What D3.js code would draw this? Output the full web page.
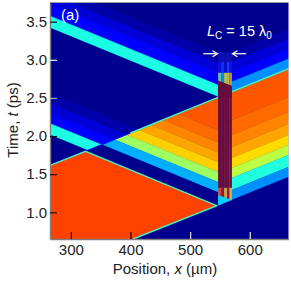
<!DOCTYPE html>
<html>
<head>
<meta charset="utf-8">
<script src="https://cdn.jsdelivr.net/npm/d3@7"></script>
<style>
  html, body { margin: 0; padding: 0; background: #fff; }
  svg { display: block; font-family: "Liberation Sans", Arial, sans-serif; }
</style>
</head>
<body>
<svg id="svg" width="291" height="287"></svg>
<script>
var xDomain = [265, 665];
var tDomain = [0.65, 3.745];
var xTicks = [300, 400, 500, 600];
var tTicks = [1.0, 1.5, 2.0, 2.5, 3.0, 3.5];
var xTickColors = ['#000', '#000', '#ddd', '#eee'];
var tTickColors = ['#111', '#111', '#111', '#aaa', '#eee', '#111'];

// field levels of the falling pulse, read at x = 265 and x = 547
var fallX = [265, 547];
var upperFallStart = [3.99, 3.86, 3.732, 3.575, 3.424];
var upperFallEnd = [3.085, 2.955, 2.827, 2.67, 2.519];
var upperFallLevels = [0.03, 0.08, 0.125, 0.40];

var lowerFallStart = [2.56, 2.43, 2.30, 2.165, 2.02];
var lowerFallEnd = [1.655, 1.525, 1.395, 1.26, 1.115];
var lowerFallLevels = [0.03, 0.08, 0.125, 0.40];

var wedgeFallStart = [3.6, 2.98, 2.82, 2.69, 2.56, 2.43, 2.30, 2.165, 2.02];
var wedgeFallEnd = [2.695, 2.075, 1.915, 1.785, 1.655, 1.525, 1.395, 1.26, 1.115];
var wedgeFallLevels = [0.79, 0.771, 0.745, 0.713, 0.671, 0.53, 0.297, 0];

// rising pulse right of the cavity, read at x = 547 and x = 665
var riseX = [547, 665];
var riseStart = [3.026, 2.901, 2.770, 2.639, 2.508, 2.138, 1.942, 1.784, 1.640, 1.509, 1.378, 1.220, 1.094];
var riseEnd = [3.40, 3.275, 3.144, 3.013, 2.882, 2.512, 2.316, 2.158, 2.014, 1.883, 1.752, 1.594, 1.468];
var riseLevels = [0.03, 0.08, 0.125, 0.265, 0.79, 0.771, 0.745, 0.713, 0.66, 0.56, 0.406, 0.265];

// outlines in (x, t)
var aboveRiseLeft = [[265, 1.615], [547, 2.508], [547, 3.745], [265, 3.745]];
var wedgeOutline = [[324.5, 1.80], [547, 2.508], [547, 1.089]];
var pulseOutline = [[265, 1.615], [324.5, 1.80], [544.6, 1.087], [404.2, 0.65], [265, 0.65]];
var pulseLevel = 0.81;
var brightEdges = [
  [[400, 2.04], [547, 2.508]],
  [[570, 2.582], [665, 2.882]],
  [[265, 1.615], [324.5, 1.80], [544.6, 1.087], [404.2, 0.65]]
];
var dimEdge = [[324.5, 1.80], [400, 2.04]];

// cavity cells
var cavityX = [547, 552, 557, 562, 566, 570];
var cavityT = [3.10, 2.97, 2.83, 2.64, 1.32, 1.16];
var cavityValues = [
  [0.03, 0.05, 0.02, 0.05, 0.03],
  [0.10, 0.18, 0.06, 0.20, 0.12],
  [0.50, 0.30, 0.62, 0.60, 0.68],
  [1.00, 1.00, 0.99, 1.00, 0.99],
  [0.78, 0.92, 0.66, 0.90, 0.62]
];
var cavityHead = [[547, 2.73], [570, 2.66], [570, 2.5], [547, 2.5]];
var cavityFoot = [[547, 1.227], [570, 1.161], [547, 1.089]];

var margin = { left: 50, top: 3, right: 288.5, bottom: 239 };
var x = d3.scaleLinear().domain(xDomain).range([margin.left, margin.right]);
var t = d3.scaleLinear().domain(tDomain).range([margin.bottom, margin.top]);
var jet = d3.scaleLinear()
  .domain([0, 0.125, 0.375, 0.625, 0.875, 1])
  .range(['#00008f', '#0000ff', '#00ffff', '#ffff00', '#ff0000', '#800000']);

var svg = d3.select('#svg');
var defs = svg.append('defs');

function pts(list) {
  return list.map(function (p) { return x(p[0]) + ',' + t(p[1]); }).join(' ');
}
var linePath = d3.line().x(function (p) { return x(p[0]); }).y(function (p) { return t(p[1]); });

function addClip(id, outline) {
  defs.append('clipPath').attr('id', id).append('polygon').attr('points', pts(outline));
}
addClip('plotClip', [[xDomain[0], tDomain[0]], [xDomain[1], tDomain[0]], [xDomain[1], tDomain[1]], [xDomain[0], tDomain[1]]]);
addClip('aboveClip', aboveRiseLeft);
addClip('wedgeClip', wedgeOutline);

// the source picture is a little soft, so the field gets a small blur
defs.append('filter').attr('id', 'soft')
  .attr('x', '-5%').attr('y', '-5%').attr('width', '110%').attr('height', '110%')
  .append('feGaussianBlur').attr('stdDeviation', 0.45);

function drawBands(parent, xs, starts, ends, levels) {
  parent.selectAll(null).data(levels).enter().append('polygon')
    .attr('points', function (d, i) {
      return pts([[xs[0], starts[i]], [xs[1], ends[i]], [xs[1], ends[i + 1]], [xs[0], starts[i + 1]]]);
    })
    .attr('fill', function (d) { return jet(d); })
    .attr('stroke', function (d) { return jet(d); })
    .attr('stroke-width', 0.3);
}

var plot = svg.append('g').attr('clip-path', 'url(#plotClip)').append('g').attr('filter', 'url(#soft)');
plot.append('rect')
  .attr('x', x(xDomain[0]) - 3).attr('y', t(tDomain[1]) - 3)
  .attr('width', x(xDomain[1]) - x(xDomain[0]) + 6)
  .attr('height', t(tDomain[0]) - t(tDomain[1]) + 6)
  .attr('fill', jet(0));

var above = plot.append('g').attr('clip-path', 'url(#aboveClip)');
drawBands(above, fallX, upperFallStart, upperFallEnd, upperFallLevels);
drawBands(above, fallX, lowerFallStart, lowerFallEnd, lowerFallLevels);

drawBands(plot, riseX, riseStart, riseEnd, riseLevels);

var wedge = plot.append('g').attr('clip-path', 'url(#wedgeClip)');
drawBands(wedge, fallX, wedgeFallStart, wedgeFallEnd, wedgeFallLevels);

plot.append('polygon').attr('points', pts(pulseOutline)).attr('fill', jet(pulseLevel));

// thin transition along the front edges
plot.append('path').attr('d', linePath(dimEdge)).attr('fill', 'none')
  .attr('stroke', jet(0.125)).attr('stroke-width', 1);
brightEdges.forEach(function (e) {
  plot.append('path').attr('d', linePath(e)).attr('fill', 'none')
    .attr('stroke', jet(0.34)).attr('stroke-width', 1.5);
  plot.append('path').attr('d', linePath(e)).attr('fill', 'none')
    .attr('stroke', jet(0.6)).attr('stroke-width', 0.5);
});

// cavity
var cavity = plot.append('g');
cavityValues.forEach(function (row, r) {
  row.forEach(function (v, c) {
    cavity.append('rect')
      .attr('x', x(cavityX[c])).attr('y', t(cavityT[r]))
      .attr('width', x(cavityX[c + 1]) - x(cavityX[c]))
      .attr('height', t(cavityT[r + 1]) - t(cavityT[r]))
      .attr('fill', jet(v));
  });
});
cavity.append('polygon').attr('points', pts(cavityHead)).attr('fill', jet(1));
cavity.append('rect')
  .attr('x', x(cavityX[0])).attr('y', t(cavityT[0]))
  .attr('width', x(cavityX[5]) - x(cavityX[0]))
  .attr('height', t(cavityT[5]) - t(cavityT[0]))
  .attr('fill', '#2828d0').attr('opacity', 0.3);
cavity.append('polygon').attr('points', pts(cavityFoot)).attr('fill', jet(0.33));

// axes
var xAxis = svg.append('g').attr('transform', 'translate(0,' + margin.bottom + ')')
  .call(d3.axisBottom(x).tickValues(xTicks).tickSizeInner(-7).tickSizeOuter(0).tickPadding(5).tickFormat(d3.format('d')));
var tAxis = svg.append('g').attr('transform', 'translate(' + margin.left + ',0)')
  .call(d3.axisLeft(t).tickValues(tTicks).tickSizeInner(-7).tickSizeOuter(0).tickPadding(3).tickFormat(d3.format('.1f')));

xAxis.selectAll('.tick line').attr('stroke', function (d, i) { return xTickColors[i]; }).attr('stroke-width', 1.2);
tAxis.selectAll('.tick line').attr('stroke', function (d, i) { return tTickColors[i]; }).attr('stroke-width', 1.2);
svg.selectAll('.domain').attr('stroke', '#808080').attr('stroke-width', 1.4);
svg.selectAll('.tick text').attr('font-size', 15).attr('font-family', '"Liberation Sans"').attr('fill', '#222');

svg.append('line')
  .attr('x1', margin.left).attr('x2', margin.right)
  .attr('y1', margin.top - 0.5).attr('y2', margin.top - 0.5)
  .attr('stroke', '#9a9aa8').attr('stroke-width', 1);

// labels
var xLabel = svg.append('text').attr('x', 165).attr('y', 274).attr('text-anchor', 'middle')
  .attr('font-size', 15).attr('fill', '#222');
xLabel.append('tspan').text('Position, ');
xLabel.append('tspan').attr('font-style', 'italic').text('x');
xLabel.append('tspan').text(' (µm)');

var tLabel = svg.append('text').attr('transform', 'translate(18,120) rotate(-90)').attr('text-anchor', 'middle')
  .attr('font-size', 15).attr('fill', '#222');
tLabel.append('tspan').text('Time, ');
tLabel.append('tspan').attr('font-style', 'italic').text('t');
tLabel.append('tspan').text(' (ps)');

svg.append('text').attr('x', 61).attr('y', 20).attr('font-size', 15).attr('fill', '#fff').text('(a)');

var lc = svg.append('text').attr('x', 207).attr('y', 36).attr('font-size', 14.5).attr('fill', '#fff');
lc.append('tspan').attr('font-style', 'italic').text('L');
lc.append('tspan').attr('font-size', 10).attr('dy', 3).text('C');
lc.append('tspan').attr('dy', -3).text(' = 15 λ');
lc.append('tspan').attr('font-size', 10).attr('dy', 3).text('0');

// cavity arrows
var arrowX = [[522, 546], [594, 571]];
var arrowT = 3.08;
arrowX.forEach(function (a) {
  var dir = a[1] > a[0] ? 1 : -1;
  svg.append('line')
    .attr('x1', x(a[0])).attr('x2', x(a[1]) - dir)
    .attr('y1', t(arrowT)).attr('y2', t(arrowT))
    .attr('stroke', '#fff').attr('stroke-width', 1.2);
  svg.append('path')
    .attr('d', 'M' + (x(a[1]) - dir * 5) + ',' + (t(arrowT) - 3) + 'L' + x(a[1]) + ',' + t(arrowT) + 'L' + (x(a[1]) - dir * 5) + ',' + (t(arrowT) + 3))
    .attr('fill', 'none').attr('stroke', '#fff').attr('stroke-width', 1.2);
});
</script>
</body>
</html>
